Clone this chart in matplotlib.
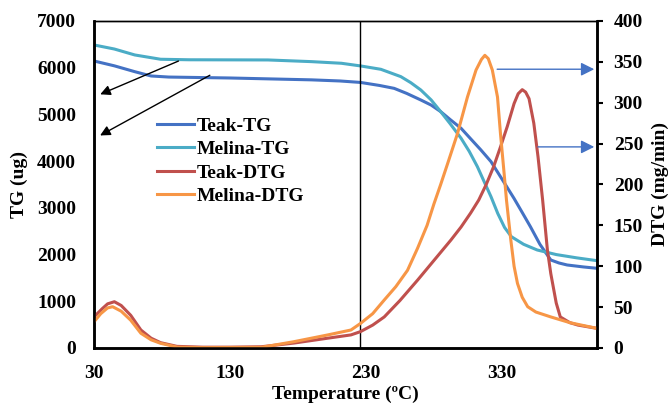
import matplotlib.pyplot as plt

# temperature / TG readings (ug)
teak_tg_t = [30, 45, 60, 72, 85, 96, 130, 160, 190, 211, 226, 240, 250.8, 260, 270.4, 278, 285,
             292, 300, 307, 314.6, 322, 330, 339, 345, 351, 358, 366, 372, 378, 390, 400]
teak_tg = [6144, 6040, 5915, 5823, 5800, 5795, 5780, 5760, 5740, 5716, 5685, 5620, 5558, 5450,
           5309, 5200, 5060, 4890, 4703, 4480, 4239, 3990, 3620, 3200, 2900, 2597, 2220, 1884,
           1820, 1777, 1735, 1706]

melina_tg_t = [30, 45, 60, 79, 100, 158, 190, 212, 226.3, 241, 255.7, 263, 270.4, 278, 285,
               292, 300, 306, 312, 317, 322, 327, 332, 337, 346, 356, 370, 385, 400]
melina_tg = [6487, 6400, 6273, 6181, 6170, 6166, 6130, 6095, 6037, 5966, 5809, 5680, 5523, 5310,
             5060, 4800, 4490, 4210, 3882, 3560, 3240, 2880, 2580, 2383, 2220, 2098, 2000, 1930,
             1869]

# DTG readings (mg/min)
teak_dtg_t = [30, 36, 40, 45, 50, 57, 64.5, 72, 79, 91, 110, 130, 153, 177, 202, 219, 226, 235,
              243.5, 255, 268, 280, 292.5, 300, 307, 313, 318.5, 324, 329, 334, 339, 342, 345,
              347.5, 350, 353.5, 356.6, 360, 363.5, 366, 370, 373, 380, 386, 400]
teak_dtg = [38, 48, 54, 56.6, 52, 40, 22, 12, 6.5, 2, 1, 1, 1.5, 6, 12, 16, 20, 28, 38, 58, 83,
            107, 132, 148, 165, 181, 200, 222, 246, 271, 299, 311, 316, 313, 305, 275, 234, 181,
            120, 91, 55, 38, 31, 28, 24]

melina_dtg_t = [30, 35, 40, 43.7, 50, 57, 64.5, 72, 79, 91.5, 110, 153, 177, 202, 219, 226, 235,
                243.5, 252, 260.6, 268, 275, 280, 285, 290, 297.4, 304.7, 311, 315, 317.5, 320,
                323, 326.8, 329, 331.7, 333.4, 336.6, 339, 341.5, 345, 349, 355, 366, 380, 400]
melina_dtg = [32, 42, 49, 50.5, 45, 34, 18, 10, 5.7, 1, 0.5, 0.8, 7.7, 16, 22, 30, 42, 58.7, 75,
              95, 122, 150, 176, 200, 225, 262.5, 307, 340, 353, 358, 354, 340, 307, 262, 213,
              181, 132, 100, 79, 62, 50.5, 44, 38, 31, 24]

marker_t = 226
xticks = [30, 130, 230, 330]

plt.rcParams['font.family'] = ['Liberation Serif', 'DejaVu Serif']
plt.rcParams['font.weight'] = 'bold'
plt.rcParams['axes.labelweight'] = 'bold'
plt.rcParams['font.size'] = 14

fig = plt.figure(figsize=(6.69, 4.03), dpi=100)
ax = fig.add_axes([0.1405, 0.1365, 0.7519, 0.8114])
ax2 = ax.twinx()

l1, = ax.plot(teak_tg_t, teak_tg, color='#4472C4', lw=2.2, label='Teak-TG')
l2, = ax.plot(melina_tg_t, melina_tg, color='#4BACC6', lw=2.2, label='Melina-TG')
l3, = ax2.plot(teak_dtg_t, teak_dtg, color='#C0504D', lw=2.2, label='Teak-DTG')
l4, = ax2.plot(melina_dtg_t, melina_dtg, color='#F79646', lw=2.2, label='Melina-DTG')

ax.axvline(marker_t, color='black', lw=1)

ax.set_xlim(30, 400)
ax.set_ylim(0, 7000)
ax2.set_ylim(0, 400)
ax.set_xticks(xticks)
ax.set_yticks(range(0, 7001, 1000))
ax2.set_yticks(range(0, 401, 50))

ax.tick_params(axis='x', length=0, pad=12)
ax.tick_params(axis='y', length=0, pad=13)
ax2.tick_params(axis='y', length=4, width=1.5, pad=8)

for a in (ax, ax2):
    for s in ('left', 'bottom', 'right'):
        a.spines[s].set_linewidth(1.8)
    a.spines['top'].set_linewidth(1)

ax.set_xlabel('Temperature (ºC)', labelpad=3)
ax.set_ylabel('TG (ug)', labelpad=6)
ax2.set_ylabel('DTG (mg/min)', labelpad=6)

# black arrows to the TG axis
ax.annotate('', xy=(32.7, 5407), xytext=(94, 6166),
            arrowprops=dict(arrowstyle='-|>', color='black', lw=1, mutation_scale=15))
ax.annotate('', xy=(32.7, 4521), xytext=(117, 5867),
            arrowprops=dict(arrowstyle='-|>', color='black', lw=1, mutation_scale=15))
# blue arrows to the DTG axis
ax2.annotate('', xy=(400, 341), xytext=(324.5, 341),
             arrowprops=dict(arrowstyle='-|>', color='#4472C4', lw=1, mutation_scale=20))
ax2.annotate('', xy=(400, 246), xytext=(354.5, 246),
             arrowprops=dict(arrowstyle='-|>', color='#4472C4', lw=1, mutation_scale=20))

ax2.legend(handles=[l1, l2, l3, l4], loc='upper left', bbox_to_anchor=(0.11, 0.73),
           frameon=False, handlelength=1.9, handletextpad=0.15, labelspacing=0.3,
           borderaxespad=0)

fig.savefig('out.png', dpi=100)
